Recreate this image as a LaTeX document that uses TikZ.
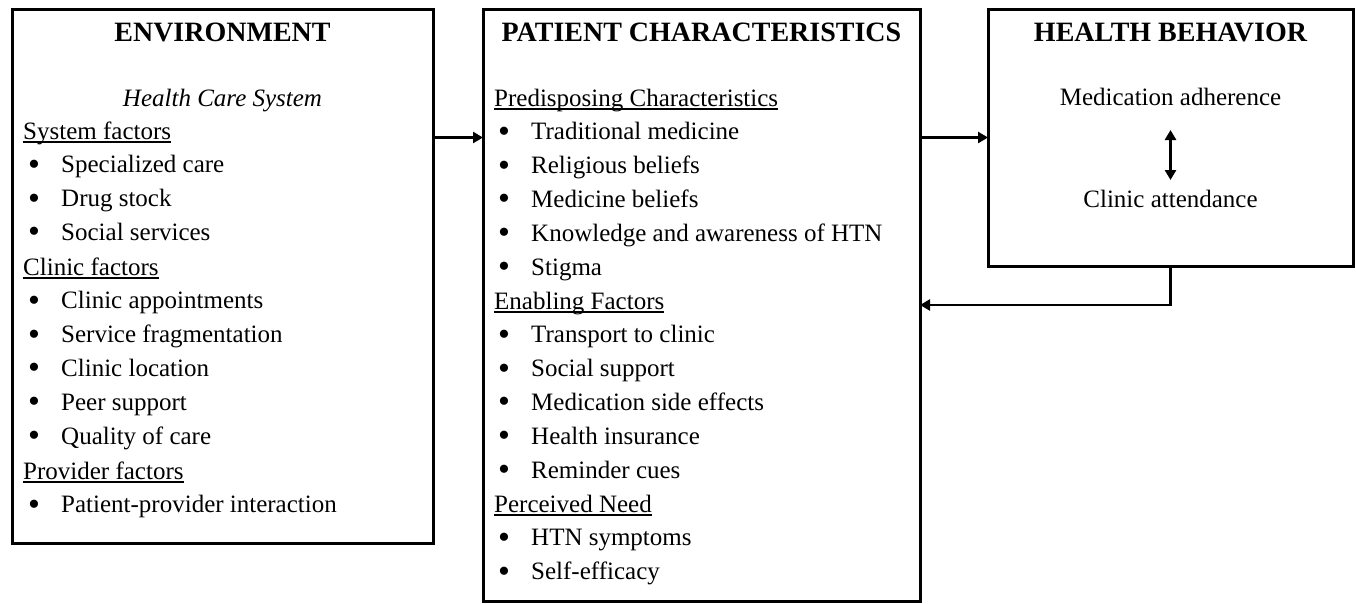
\documentclass[tikz,border=0pt]{standalone}
\usepackage{fontspec}
\setmainfont{Liberation Serif}
\usetikzlibrary{arrows.meta}

\newcommand{\ulin}[1]{\setbox0\hbox{#1}\rlap{\rule[-3.5pt]{\wd0}{1.1pt}}\box0}
\newcommand{\bul}{\makebox[33pt][l]{\raisebox{-2.5pt}{\fontsize{34}{34}\selectfont\textbullet}}}

\tikzset{
  box/.style={draw,line width=3pt,outer sep=0pt,inner sep=0pt,anchor=north west},
  title/.style={anchor=base,inner sep=0pt,font=\fontsize{28}{34}\selectfont\bfseries},
  item/.style={anchor=base west,inner sep=0pt,font=\fontsize{25}{34}\selectfont},
  tip/.style={Triangle[length=10pt,width=11pt]},
  conn/.style={line width=2.8pt,-{Triangle[length=10pt,width=11pt]}},
}

\begin{document}
\begin{tikzpicture}[x=1pt,y=-1pt]
        \useasboundingbox (0,0) rectangle (1356,603);
        \node[box,minimum width=421pt,minimum height=534pt] (env) at (12,9) {};
        \node[box,minimum width=437pt,minimum height=592pt] (pat) at (483,9) {};
        \node[box,minimum width=365pt,minimum height=257pt] (beh) at (988,9) {};

        \node[title] (envtitle) at (222.5,41) {ENVIRONMENT};
        \node[item,anchor=base,font=\fontsize{25}{34}\selectfont\itshape] (hcs) at (222.5,106) {Health Care System};
        \node[item] (sysf) at (23,139) {\ulin{System factors}};
        \foreach \t [count=\i] in {Specialized care,Drug stock,Social services}
            \node[item] (sys\i) at (28,139+33.8*\i) {\bul\t};
        \node[item] (clif) at (23,275) {\ulin{Clinic factors}};
        \foreach \t [count=\i] in {Clinic appointments,Service fragmentation,Clinic location,Peer support,Quality of care}
            \node[item] (cli\i) at (28,275+33.8*\i) {\bul\t};
        \node[item] (prof) at (23,479) {\ulin{Provider factors}};
        \node[item] (pro1) at (28,512.5) {\bul Patient-provider interaction};

        \node[title] (pattitle) at (701.5,41) {PATIENT CHARACTERISTICS};
        \node[item] (pref) at (494,106) {\ulin{Predisposing Characteristics}};
        \foreach \t [count=\i] in {Traditional medicine,Religious beliefs,Medicine beliefs,Knowledge and awareness of HTN,Stigma}
            \node[item] (pre\i) at (498,106+33.8*\i) {\bul\t};
        \node[item] (enaf) at (494,309) {\ulin{Enabling Factors}};
        \foreach \t [count=\i] in {Transport to clinic,Social support,Medication side effects,Health insurance,Reminder cues}
            \node[item] (ena\i) at (498,309+33.8*\i) {\bul\t};
        \node[item] (perf) at (494,512) {\ulin{Perceived Need}};
        \foreach \t [count=\i] in {HTN symptoms,Self-efficacy}
            \node[item] (per\i) at (498,512+33.8*\i) {\bul\t};

        \node[title] (behtitle) at (1170.5,41) {HEALTH BEHAVIOR};
        \node[item,anchor=base] (med) at (1170.5,105) {Medication adherence};
        \node[item,anchor=base] (clin) at (1170.5,207) {Clinic attendance};

        \draw[conn] (env.east |- beh.west) -- (pat.west |- beh.west);
        \draw[conn] (pat.east |- beh.west) -- (beh.west);
        \draw[conn] (beh.south) |- (pat.east);
        \draw[line width=2.8pt,{Triangle[length=10pt,width=11pt]}-{Triangle[length=10pt,width=11pt]}] ([yshift=-25pt]med.base) -- ([yshift=27pt]clin.base);
\end{tikzpicture}
\end{document}
